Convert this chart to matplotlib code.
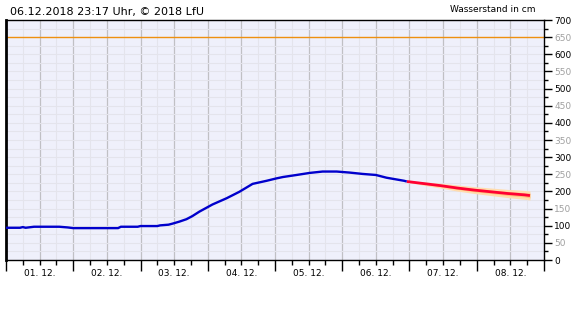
import numpy as np
import matplotlib
matplotlib.use("Agg")
import matplotlib.pyplot as plt
from matplotlib.ticker import MultipleLocator, FuncFormatter

# hours since 01.12.2018 00:00
obs_hours = [0, 5, 6, 7, 9, 10, 19, 22, 24, 40, 41, 47, 48, 54, 55, 58, 59.4, 61.9, 64.4,
             66.5, 69, 73.7, 78.7, 83.3, 88, 93, 96.5, 98.8, 103.7, 108.4, 113, 118,
             122.6, 127.3, 132, 135.8, 139.3, 142.1, 143]
obs_level = [94, 94, 96, 94, 96, 97, 97, 95, 93, 93, 97, 97, 99, 99, 101, 103, 106, 112, 119,
             128, 141, 162, 180, 199, 222, 231, 238, 242, 248, 254, 258, 258,
             255, 251, 248, 240, 235, 231, 229]

fc_hours = [143, 149, 155, 161, 167, 173, 179, 185, 187]
fc_level = [229, 223, 217, 210, 204, 199, 194, 190, 188]
fc_outer = [2, 5, 7, 9, 10, 11, 12, 13, 13]
fc_inner = [1, 2, 3, 4, 5, 5, 6, 6, 7]

warn_level = 650
day_labels = ["01. 12.", "02. 12.", "03. 12.", "04. 12.",
              "05. 12.", "06. 12.", "07. 12.", "08. 12."]

BG = "#eff0fb"
fig = plt.figure(figsize=(5.8, 3.2), dpi=100)
ax = fig.add_axes([6 / 580, 60 / 320, 538 / 580, 240 / 320])
ax.set_facecolor(BG)
ax.set_xlim(0, 192)
ax.set_ylim(0, 700)

# grid
for h in np.arange(6, 192, 12):
    ax.axvline(h, color="#e4e4ec", lw=0.8, zorder=0)
for h in np.arange(12, 192, 12):
    ax.axvline(h, color="#c0c0c4", lw=0.9, zorder=0)
for v in np.arange(25, 700, 25):
    ax.axhline(v, color="#e4e4ec", lw=0.8, zorder=0)
ax.axhline(warn_level, color="#ee9010", lw=1.0, zorder=1)

fc_h = np.array(fc_hours)
fc_v = np.array(fc_level)
ax.fill_between(fc_h, fc_v - np.array(fc_outer), fc_v + np.array(fc_outer),
                color="#ffdcae", lw=0, zorder=2)
ax.fill_between(fc_h, fc_v - np.array(fc_inner), fc_v + np.array(fc_inner),
                color="#ffc47a", lw=0, zorder=2)
ax.plot(fc_h, fc_v, color="#ff0033", lw=2.0, zorder=3, solid_capstyle="butt")
ax.plot(obs_hours, obs_level, color="#0000cc", lw=1.7, zorder=4, solid_capstyle="butt")

# x axis
ax.xaxis.set_major_locator(MultipleLocator(24))
ax.xaxis.set_minor_locator(MultipleLocator(6))
ax.xaxis.set_major_formatter(FuncFormatter(lambda v, p: ""))
ax.xaxis.set_minor_formatter(FuncFormatter(
    lambda v, p: day_labels[int(v // 24)] if v % 24 == 12 and 0 <= v // 24 < 8 else ""))
ax.tick_params(axis="x", which="major", length=8, width=1, direction="out", color="black")
ax.tick_params(axis="x", which="minor", length=3.6, width=1, direction="out",
               labelsize=6.5, pad=3, color="black")

# y axis on the right
ax.yaxis.tick_right()
ax.yaxis.set_major_locator(MultipleLocator(50))
ax.yaxis.set_minor_locator(MultipleLocator(25))
ax.tick_params(axis="y", which="major", length=5.5, width=1, labelsize=6.5, pad=2)
ax.tick_params(axis="y", which="minor", length=3, width=1)
ax.set_yticks(np.arange(0, 701, 50))
ax.set_yticklabels([str(v) for v in range(0, 701, 50)])
for lbl, v in zip(ax.get_yticklabels(), range(0, 701, 50)):
    lbl.set_color("black" if v % 100 == 0 else "#a0a0a0")

for s in ["top", "right", "bottom"]:
    ax.spines[s].set_linewidth(1)
ax.spines["left"].set_linewidth(2)

fig.text(10 / 580, 1 - 12 / 320, "06.12.2018 23:17 Uhr, \u00a9 2018 LfU",
         fontsize=8, va="center", ha="left")
fig.text(535 / 580, 1 - 10 / 320, "Wasserstand in cm",
         fontsize=6.5, va="center", ha="right")

fig.savefig("out.png", dpi=100)
